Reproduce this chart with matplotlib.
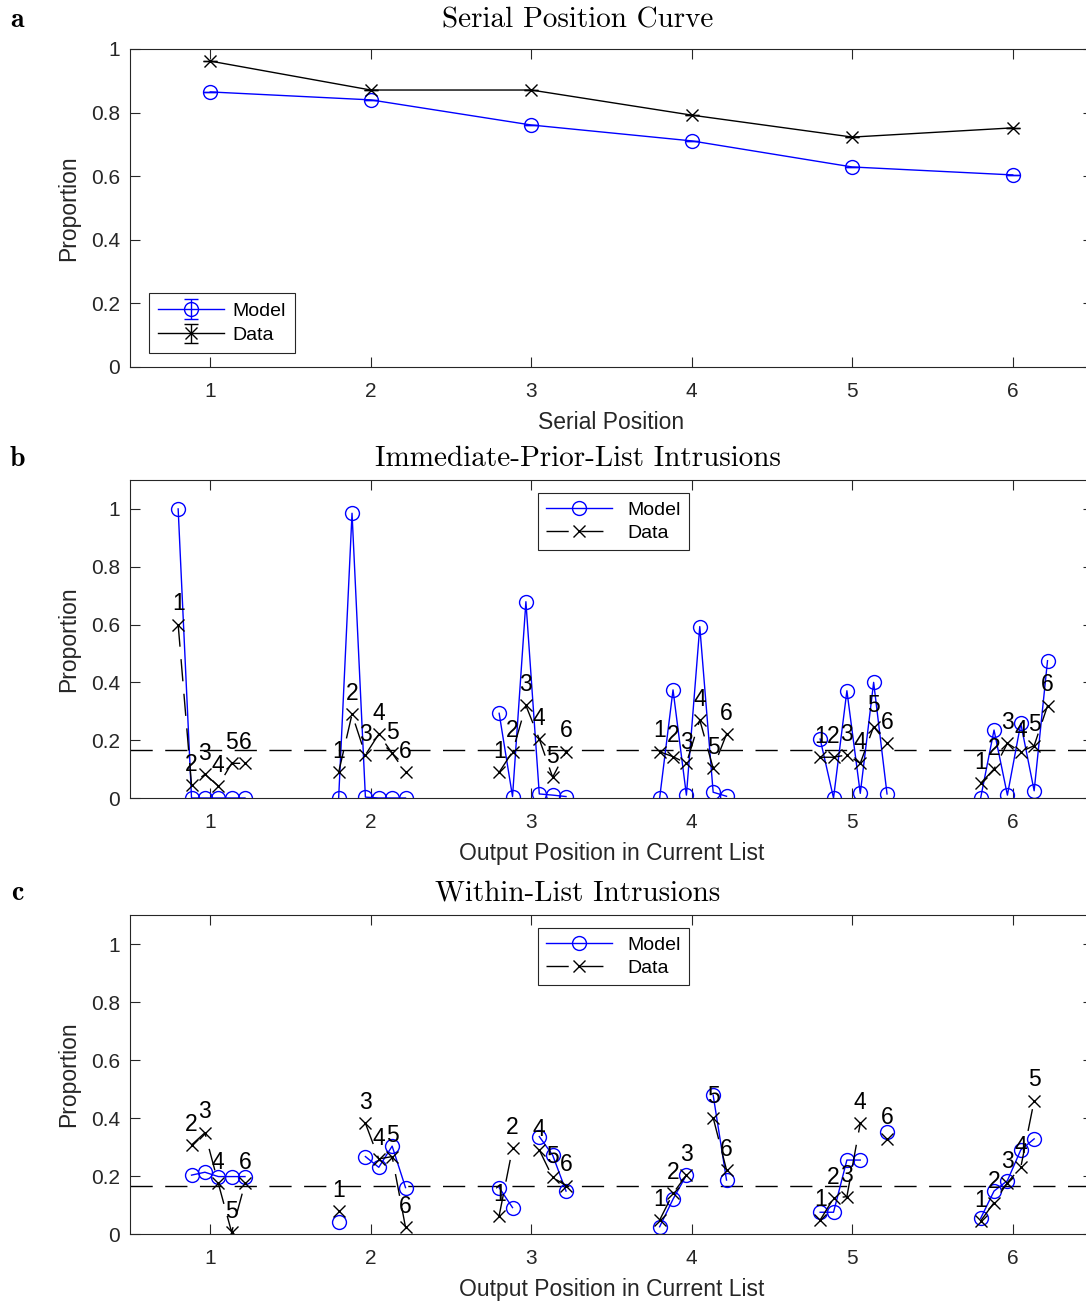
import numpy as np
import matplotlib
matplotlib.use("Agg")
import matplotlib.pyplot as plt

plt.rcParams['font.family'] = ['Liberation Sans', 'DejaVu Sans']

# -------------------------------
# DATA
# -------------------------------
serial_pos = [1, 2, 3, 4, 5, 6]
sp_model = [0.865, 0.840, 0.761, 0.711, 0.629, 0.604]
sp_data = [0.962, 0.871, 0.871, 0.792, 0.723, 0.752]
sp_model_err = [0, 0, 0, 0, 0, 0]
sp_data_err = [0, 0, 0, 0, 0, 0]

# immediate-prior-list intrusions, rows = output position, cols = serial position of intrusion
ipl_model = [
    [1.000, 0.000, 0.000, 0.000, 0.000, 0.000],
    [0.000, 0.985, 0.003, 0.000, 0.000, 0.000],
    [0.293, 0.005, 0.679, 0.014, 0.010, 0.005],
    [0.000, 0.374, 0.010, 0.593, 0.020, 0.006],
    [0.204, 0.000, 0.371, 0.016, 0.400, 0.014],
    [0.000, 0.235, 0.010, 0.258, 0.025, 0.475],
]
ipl_data = [
    [0.600, 0.045, 0.082, 0.042, 0.120, 0.120],
    [0.089, 0.290, 0.149, 0.221, 0.155, 0.089],
    [0.089, 0.160, 0.320, 0.204, 0.072, 0.160],
    [0.160, 0.143, 0.120, 0.270, 0.103, 0.221],
    [0.141, 0.141, 0.149, 0.120, 0.247, 0.189],
    [0.051, 0.100, 0.189, 0.160, 0.181, 0.319],
]

# within-list intrusions (own position is not an intrusion -> nan)
nan = np.nan
wli_model = [
    [nan, 0.203, 0.213, 0.198, 0.198, 0.198],
    [0.042, nan, 0.267, 0.230, 0.303, 0.160],
    [0.160, 0.091, nan, 0.336, 0.272, 0.148],
    [0.025, 0.120, 0.203, nan, 0.479, 0.186],
    [0.075, 0.075, 0.255, 0.255, nan, 0.353],
    [0.054, 0.148, 0.184, 0.290, 0.328, nan],
]
wli_data = [
    [nan, 0.307, 0.349, 0.175, 0.006, 0.175],
    [0.079, nan, 0.382, 0.259, 0.267, 0.023],
    [0.063, 0.295, nan, 0.290, 0.195, 0.167],
    [0.048, 0.140, 0.203, nan, 0.401, 0.221],
    [0.048, 0.123, 0.129, 0.382, nan, 0.328],
    [0.045, 0.108, 0.177, 0.230, 0.460, nan],
]

chance = 1 / 6
ytick_vals = [0, 0.2, 0.4, 0.6, 0.8, 1]
ytick_labels = ['0', '0.2', '0.4', '0.6', '0.8', '1']

AX_COL = '#262626'
DASH = (0, (16, 9))

fig = plt.figure(figsize=(10.86, 13.02), dpi=100)

L, W = 130 / 1086, 963 / 1086
ax_a = fig.add_axes([L, 1 - 367 / 1302, W, 318 / 1302])
ax_b = fig.add_axes([L, 1 - 798 / 1302, W, 318 / 1302])
ax_c = fig.add_axes([L, 1 - 1234 / 1302, W, 319 / 1302])


def style_axes(ax, ylim_top):
    ax.set_xlim(0.5, 6.5)
    ax.set_ylim(0, ylim_top)
    ax.set_xticks(serial_pos)
    ax.set_yticks(ytick_vals)
    ax.set_yticklabels(ytick_labels)
    ax.tick_params(direction='in', length=7, width=0.8, top=True, right=True,
                   color=AX_COL, labelcolor=AX_COL, labelsize=15)
    ax.tick_params(axis='x', pad=11)
    ax.tick_params(axis='y', pad=7)
    for s in ax.spines.values():
        s.set_color(AX_COL)
        s.set_linewidth(0.8)
    ax.set_ylabel('Proportion', fontsize=16.5, color=AX_COL, labelpad=8)


# -------------------------------
# a) serial position curve
# -------------------------------
style_axes(ax_a, 1)
h_model = ax_a.errorbar(serial_pos, sp_model, yerr=sp_model_err, color='blue', marker='o',
                        mfc='none', ms=10, lw=1, capsize=5, elinewidth=1, label='Model')
h_data = ax_a.errorbar(serial_pos, sp_data, yerr=sp_data_err, color='black', marker='x',
                       ms=9, lw=1, capsize=5, elinewidth=1, label='Data')
ax_a.set_xlabel('Serial Position', fontsize=16.5, color=AX_COL, labelpad=7)
leg = ax_a.legend(loc='lower left', bbox_to_anchor=(0.0197, 0.044), borderaxespad=0,
                  fontsize=14, fancybox=False, edgecolor=AX_COL, handlelength=3.4,
                  framealpha=1, labelspacing=0.35, handletextpad=0.45, borderpad=0.45)
leg.get_frame().set_linewidth(0.8)


# -------------------------------
# b, c) intrusion panels
# -------------------------------
def offset_x(g, j):
    return g + j / 12 - 0.2


def intrusion_panel(ax, model, data):
    style_axes(ax, 1.1)
    ax.axhline(chance, color='black', lw=1, ls=DASH)
    for gi, g in enumerate(serial_pos):
        xs = [offset_x(g, j) for j in range(6)]
        ym = np.array(model[gi], dtype=float)
        yd = np.array(data[gi], dtype=float)
        hm, = ax.plot(xs, ym, color='blue', marker='o', mfc='none', ms=10, lw=1)
        hd, = ax.plot(xs, yd, color='black', marker='x', ms=8, lw=1, ls=DASH)
        for j in range(6):
            if np.isfinite(yd[j]):
                ax.text(xs[j], yd[j] + 0.072, str(j + 1), ha='center', va='center',
                        fontsize=16.5, color='black')
    ax.set_xlabel('Output Position in Current List', fontsize=16.5, color=AX_COL, labelpad=7)
    lg = ax.legend([hm, hd], ['Model', 'Data'], loc='upper center', bbox_to_anchor=(0.502, 0.958),
                   borderaxespad=0, fontsize=14, fancybox=False, edgecolor=AX_COL,
                   handlelength=3.4, framealpha=1, labelspacing=0.3)
    lg.get_frame().set_linewidth(0.8)


intrusion_panel(ax_b, ipl_model, ipl_data)
intrusion_panel(ax_c, wli_model, wli_data)

# titles and panel letters
titles = ['Serial Position Curve', 'Immediate-Prior-List Intrusions', 'Within-List Intrusions']
title_y = [20, 459, 893]
letters = ['a', 'b', 'c']
for t, y, l in zip(titles, title_y, letters):
    fig.text(578 / 1086, 1 - y / 1302, t, ha='center', va='center', fontsize=21,
             family='cmr10', color='black')
    fig.text(17 / 1086, 1 - y / 1302, l, ha='center', va='center', fontsize=20,
             family='cmb10', color='black')

fig.savefig('out.png', dpi=100)
